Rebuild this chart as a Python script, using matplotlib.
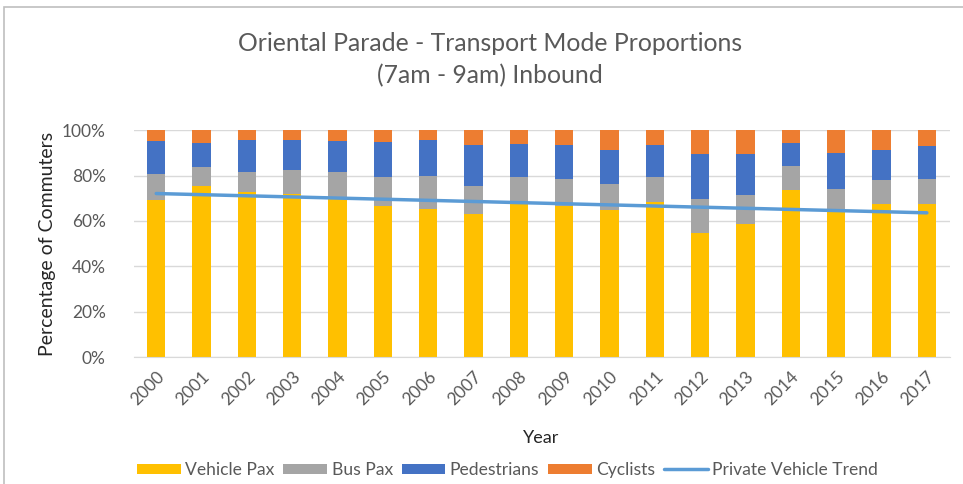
import matplotlib
matplotlib.use("Agg")
import matplotlib.pyplot as plt
from matplotlib.patches import Rectangle
from matplotlib.ticker import PercentFormatter
import numpy as np

plt.rcParams['font.family'] = ['Lato', 'DejaVu Sans']

years = ["2000", "2001", "2002", "2003", "2004", "2005", "2006", "2007", "2008",
         "2009", "2010", "2011", "2012", "2013", "2014", "2015", "2016", "2017"]
vehicle_pax = [69.1, 75.4, 72.7, 72.1, 69.8, 66.6, 65.2, 63.2, 67.3,
               66.6, 64.8, 68.2, 54.8, 58.8, 73.6, 64.8, 67.3, 67.7]
bus_pax = [11.7, 8.2, 8.7, 10.3, 12.0, 13.0, 14.7, 12.3, 12.2,
           12.0, 11.3, 11.1, 14.7, 12.8, 10.6, 9.1, 10.6, 10.7]
pedestrians = [14.4, 10.6, 14.4, 13.5, 13.3, 15.0, 15.8, 17.9, 14.2,
               14.8, 15.1, 14.1, 19.9, 17.9, 10.0, 16.1, 13.3, 14.5]
cyclists = [4.8, 5.9, 4.3, 4.1, 4.8, 5.4, 4.3, 6.6, 6.3,
            6.6, 8.8, 6.6, 10.6, 10.6, 5.9, 10.0, 8.8, 7.0]
trend_years = ["2000", "2017"]
trend_values = [72.1, 63.6]

series = [("Vehicle Pax", vehicle_pax, "#FFC000"),
          ("Bus Pax", bus_pax, "#A5A5A5"),
          ("Pedestrians", pedestrians, "#4472C4"),
          ("Cyclists", cyclists, "#ED7D31")]

fig = plt.figure(figsize=(9.63, 4.84), dpi=100)
ax = fig.add_axes([0.1387, 0.262, 0.8473, 0.469])

x = np.arange(len(years))
bottom = np.zeros(len(years))
handles = []
for name, vals, col in series:
    b = ax.bar(x, vals, width=0.4, bottom=bottom, color=col, label=name, zorder=2)
    bottom += np.array(vals)
    handles.append(b)

tx = [years.index(y) for y in trend_years]
line, = ax.plot(tx, trend_values, color="#5B9BD5", lw=2.5, zorder=3,
                label="Private Vehicle Trend", solid_capstyle='round')
handles.append(line)

ax.set_xlim(-0.5, len(years) - 0.5)
ax.set_ylim(0, 100)
ax.set_yticks(np.arange(0, 101, 20))
ax.yaxis.set_major_formatter(PercentFormatter(decimals=0))
ax.grid(axis='y', color="#D9D9D9", lw=1, zorder=0)
for s in ['top', 'right', 'left']:
    ax.spines[s].set_visible(False)
ax.spines['bottom'].set_color("#D9D9D9")
ax.tick_params(axis='both', length=0, labelsize=12.5, labelcolor="#595959")
ax.tick_params(axis='y', pad=20)
ax.set_xticks(x)
ax.set_xticklabels(years, rotation=45, ha='right', rotation_mode='anchor')
ax.tick_params(axis='x', pad=8)

fig.text(47 / 963, 0.497, "Percentage of Commuters", rotation=90, ha='center', va='center',
         fontsize=14, color="#262626")
fig.text(0.5615, 0.095, "Year", ha='center', va='center', fontsize=13, color="#262626")

fig.text(0.509, 0.911, "Oriental Parade - Transport Mode Proportions", ha='center', va='center',
         fontsize=17.8, color="#595959")
fig.text(0.509, 0.843, "(7am - 9am) Inbound", ha='center', va='center',
         fontsize=17.8, color="#595959")

leg = fig.legend(handles=handles, loc='center', bbox_to_anchor=(0.527, 0.029), ncol=5,
                 frameon=False, fontsize=12.6, handlelength=2.5, handleheight=0.55,
                 handletextpad=0.25, columnspacing=0.5)
for t in leg.get_texts():
    t.set_color("#595959")

fig.patches.append(Rectangle((4 / 963, -0.1), 1.2, (484 - 7) / 484 + 0.1, transform=fig.transFigure,
                             fill=False, edgecolor="#BFBFBF", lw=1.2))

fig.savefig("out.png", dpi=100)
